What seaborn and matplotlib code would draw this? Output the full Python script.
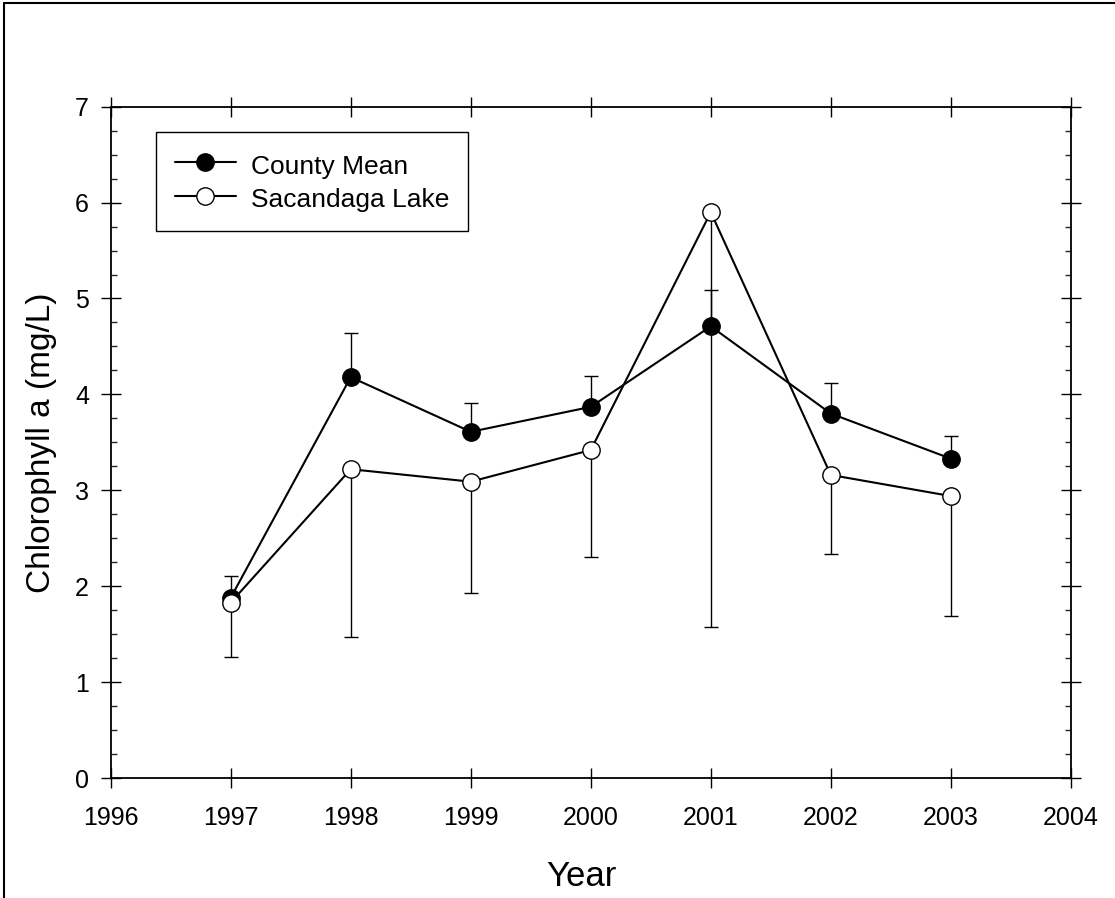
import matplotlib
matplotlib.use("Agg")
import matplotlib.pyplot as plt
from matplotlib.lines import Line2D
from matplotlib.ticker import MultipleLocator
import numpy as np
import pandas as pd
import seaborn as sns

# Annual mean chlorophyll a
years = [1997, 1998, 1999, 2000, 2001, 2002, 2003]
county_mean = [1.88, 4.18, 3.61, 3.87, 4.71, 3.80, 3.33]
county_upper = [2.11, 4.64, 3.91, 4.19, 5.09, 4.12, 3.57]
sacandaga = [1.83, 3.22, 3.09, 3.42, 5.90, 3.16, 2.94]
sacandaga_lower = [1.26, 1.47, 1.93, 2.30, 1.57, 2.34, 1.69]

x_ticks = [1996, 1997, 1998, 1999, 2000, 2001, 2002, 2003, 2004]
y_ticks = [0, 1, 2, 3, 4, 5, 6, 7]

sns.set_theme(style="ticks")
plt.rcParams["font.family"] = ["Liberation Sans", "DejaVu Sans"]

df = pd.DataFrame({"Year": years, "County": county_mean, "Lake": sacandaga})

fig = plt.figure(figsize=(11.15, 8.98), dpi=100)
ax = fig.add_axes([0.0993, 0.1336, 0.8611, 0.7476])

# one-sided error bars: county upward, lake downward
c_err = np.array(county_upper) - np.array(county_mean)
s_err = np.array(sacandaga) - np.array(sacandaga_lower)
ax.errorbar(years, county_mean, yerr=[np.zeros_like(c_err), c_err], fmt="none",
            ecolor="black", elinewidth=1.0, capsize=5, capthick=1.0, zorder=2)
sns.lineplot(data=df, x="Year", y="County", ax=ax, color="black", lw=1.5,
             marker="o", markersize=12.5, markerfacecolor="black",
             markeredgecolor="black", markeredgewidth=1.0, label="County Mean",
             zorder=3)
ax.errorbar(years, sacandaga, yerr=[s_err, np.zeros_like(s_err)], fmt="none",
            ecolor="black", elinewidth=1.0, capsize=5, capthick=1.0, zorder=4)
sns.lineplot(data=df, x="Year", y="Lake", ax=ax, color="black", lw=1.5,
             marker="o", markersize=12.5, markerfacecolor="white",
             markeredgecolor="black", markeredgewidth=1.0, label="Sacandaga Lake",
             zorder=5)

ax.set_xlim(1996, 2004)
ax.set_ylim(0, 7)
ax.set_xticks(x_ticks)
ax.set_xticklabels([str(t) for t in x_ticks])
ax.set_yticks(y_ticks)
ax.yaxis.set_minor_locator(MultipleLocator(0.25))

for s in ax.spines.values():
    s.set_visible(True)
    s.set_linewidth(1.3)
    s.set_color("black")

ax.tick_params(which="major", direction="inout", length=14.4, width=1.0,
               top=True, right=True, bottom=True, left=True,
               labelsize=18, colors="black")
ax.tick_params(axis="x", which="major", pad=13)
ax.tick_params(axis="y", which="major", pad=8.5)
ax.tick_params(axis="y", which="minor", direction="in", length=4.5, width=1.0,
               left=True, right=True)
ax.tick_params(axis="x", which="minor", bottom=False, top=False)

ax.set_xlabel("Year", fontsize=25, color="black")
ax.set_ylabel("Chlorophyll a (mg/L)", fontsize=24, color="black")
ax.xaxis.set_label_coords(0.49, -0.122)
ax.yaxis.set_label_coords(-0.056, 0.5)

leg = ax.legend(loc="upper left", bbox_to_anchor=(0.047, 0.962), fontsize=19,
                frameon=True, fancybox=False, handlelength=2.31,
                handleheight=1.2, handletextpad=0.56, labelspacing=0.22,
                borderpad=0.72, borderaxespad=0.0)
leg.get_frame().set_edgecolor("black")
leg.get_frame().set_linewidth(1.0)
leg.get_frame().set_alpha(1.0)
for t in leg.get_texts():
    t.set_color("black")

# figure frame on left and top edges
fig.add_artist(Line2D([0.0036, 0.0036], [0, 0.997], transform=fig.transFigure,
                      color="black", lw=1.5))
fig.add_artist(Line2D([0.0036, 1.0], [0.997, 0.997], transform=fig.transFigure,
                      color="black", lw=1.5))

fig.savefig("out.png", dpi=100, facecolor="white")
